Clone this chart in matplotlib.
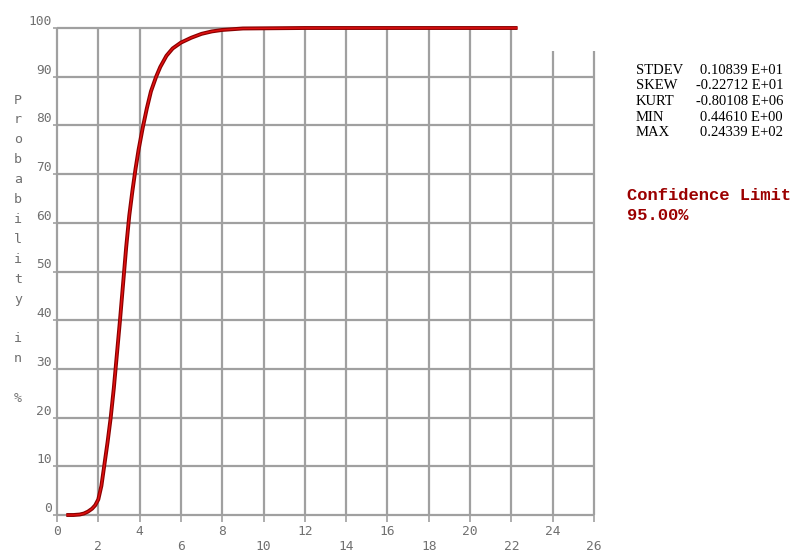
import numpy as np
import matplotlib.pyplot as plt

# cumulative probability curve
x_vals = [0.45, 0.8, 1.1, 1.3, 1.5, 1.7, 1.85, 2.0, 2.15, 2.3, 2.45, 2.6, 2.75, 2.9,
          3.05, 3.2, 3.35, 3.5, 3.65, 3.8, 3.95, 4.15, 4.35, 4.55, 4.8, 5.0, 5.3,
          5.6, 6.0, 6.5, 7.0, 7.5, 8.0, 9.0, 12.0, 16.0, 22.3]
y_vals = [0.0, 0.0, 0.1, 0.3, 0.7, 1.3, 2.0, 3.2, 6.0, 10.5, 15.0, 20.0, 26.0, 33.0,
          40.0, 47.5, 55.0, 61.5, 66.5, 71.0, 75.0, 79.5, 83.5, 87.0, 90.0, 92.0, 94.3,
          95.8, 97.0, 98.0, 98.8, 99.3, 99.6, 99.9, 100.0, 100.0, 100.0]

x_ticks = list(range(0, 27, 2))
y_ticks = list(range(0, 101, 10))

stat_names = ["STDEV", "SKEW", "KURT", "MIN", "MAX"]
stat_values = ["0.10839 E+01", "-0.22712 E+01", "-0.80108 E+06", "0.44610 E+00", "0.24339 E+02"]

ylabel = "Probability in %"
conf_text = ["Confidence Limit", "95.00%"]

W, H = 795, 553
fig = plt.figure(figsize=(W / 100, H / 100), dpi=100)
ax = fig.add_axes([57 / W, 38 / H, 537 / W, 487 / H])
ax.set_xlim(0, 26)
ax.set_ylim(0, 100)
for s in ax.spines.values():
    s.set_visible(False)

grid_c = "#a0a0a0"
# horizontal grid lines (top one stops at 22)
for yv in y_ticks:
    x_end = 22 if yv == 100 else 26
    ax.hlines(yv, 0, x_end, color=grid_c, lw=1.6, clip_on=False, zorder=1)
# vertical grid lines (last two are shorter)
for xv in x_ticks:
    y_end = 100 if xv <= 22 else 95.3
    ax.vlines(xv, 0, y_end, color=grid_c, lw=1.6, clip_on=False, zorder=1)

# curve
ax.plot(x_vals, y_vals, color="#8b0000", lw=2.8, clip_on=False, zorder=3,
        solid_capstyle="butt")
ax.plot(x_vals, y_vals, color="#e01010", lw=1.1, clip_on=False, zorder=4,
        solid_capstyle="butt")

tick_font = dict(family="DejaVu Sans Mono", size=9.3, color="#707070")
ax.set_xticks(x_ticks)
# labels alternate between two rows
ax.set_xticklabels([str(v) if i % 2 == 0 else "" for i, v in enumerate(x_ticks)],
                   **tick_font)
for i, v in enumerate(x_ticks):
    if i % 2 == 1:
        ax.text(v, -31 / 487, str(v), transform=ax.get_xaxis_transform(),
                ha="center", va="center", **tick_font)
ax.set_yticks(y_ticks)
ax.set_yticklabels([str(v) for v in y_ticks], **tick_font)
for lbl in ax.get_yticklabels():
    lbl.set_verticalalignment("bottom")
ax.tick_params(axis="x", length=5, width=1.2, color=grid_c, pad=2)
ax.tick_params(axis="y", length=3, width=1.2, color=grid_c, pad=1)

# vertical stacked y label
for i, ch in enumerate(ylabel):
    if ch == " ":
        continue
    fig.text(18 / W, 1 - (100 + i * 19.9) / H, ch, ha="center", va="center",
             family="DejaVu Sans Mono", size=9.5, color="#707070")

# statistics block
for i, (n, v) in enumerate(zip(stat_names, stat_values)):
    yy = 1 - (70 + i * 15.7) / H
    fig.text(636 / W, yy, n, ha="left", va="center", family="Liberation Serif",
             size=10.5, color="black")
    fig.text(783 / W, yy, v, ha="right", va="center", family="Liberation Serif",
             size=10.5, color="black")

for i, t in enumerate(conf_text):
    fig.text(627 / W, 1 - (195 + i * 20) / H, t, ha="left", va="center",
             family="Liberation Mono", weight="bold", size=12.3, color="#9b0000")

fig.savefig("out.png", dpi=100)
